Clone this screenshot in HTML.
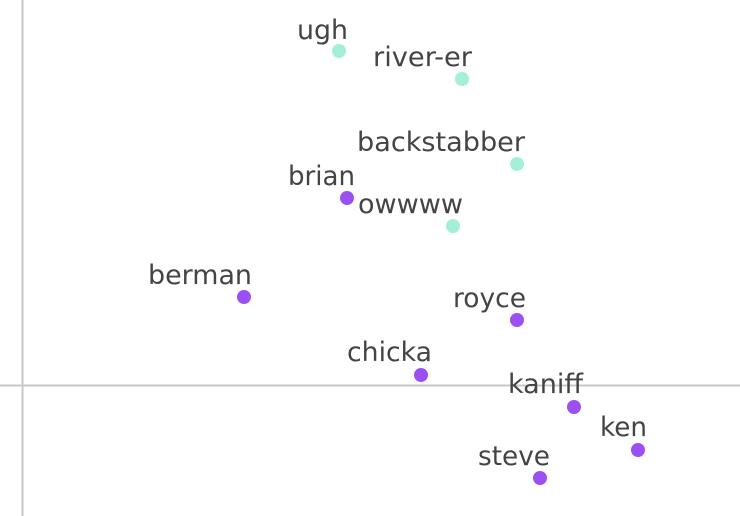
<!DOCTYPE html>
<html><head><style>html,body{margin:0;padding:0;background:#fff;}svg{display:block}</style></head>
<body>
<svg width="740" height="516" viewBox="0 0 740 516" xmlns="http://www.w3.org/2000/svg">
<line x1="22.5" y1="0" x2="22.5" y2="516" stroke="#c8c8c8" stroke-width="2"/>
<line x1="0" y1="385.5" x2="740" y2="385.5" stroke="#c8c8c8" stroke-width="2"/>
<g font-family="DejaVu Sans, sans-serif" font-size="27" fill="#444">
<text x="297" y="39" textLength="51" lengthAdjust="spacingAndGlyphs">ugh</text>
<text x="373" y="66" textLength="99" lengthAdjust="spacingAndGlyphs">river-er</text>
<text x="357" y="151" textLength="168" lengthAdjust="spacingAndGlyphs">backstabber</text>
<text x="288" y="185" textLength="67" lengthAdjust="spacingAndGlyphs">brian</text>
<text x="358" y="213" textLength="105" lengthAdjust="spacingAndGlyphs">owwww</text>
<text x="148" y="284" textLength="104" lengthAdjust="spacingAndGlyphs">berman</text>
<text x="453" y="307" textLength="73" lengthAdjust="spacingAndGlyphs">royce</text>
<text x="347" y="361" textLength="85" lengthAdjust="spacingAndGlyphs">chicka</text>
<text x="508" y="393" textLength="75" lengthAdjust="spacingAndGlyphs">kaniff</text>
<text x="600" y="436" textLength="47" lengthAdjust="spacingAndGlyphs">ken</text>
<text x="478" y="465" textLength="72" lengthAdjust="spacingAndGlyphs">steve</text>
</g>
<g fill="#a3f0d6">
<circle cx="339" cy="51" r="7"/>
<circle cx="462" cy="79" r="7"/>
<circle cx="517" cy="164" r="7"/>
<circle cx="453" cy="226" r="7"/>
</g>
<g fill="#9b50f2">
<circle cx="347" cy="198" r="7"/>
<circle cx="244" cy="297" r="7"/>
<circle cx="517" cy="320" r="7"/>
<circle cx="421" cy="375" r="7"/>
<circle cx="574" cy="407" r="7"/>
<circle cx="638" cy="450" r="7"/>
<circle cx="540" cy="478" r="7"/>
</g>
</svg>
</body></html>
